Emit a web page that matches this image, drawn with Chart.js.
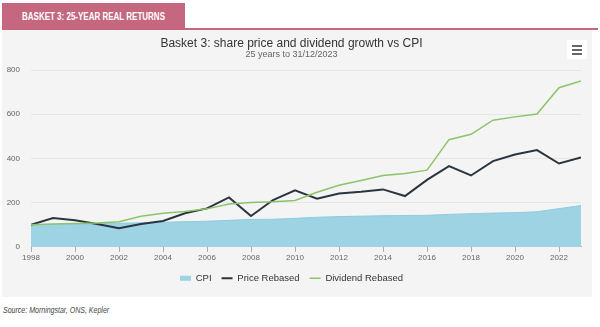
<!DOCTYPE html>
<html lang="en">
<head>
  <meta charset="UTF-8" />
  <title>Basket 3: 25-year real returns</title>
  <script src="https://cdn.jsdelivr.net/npm/chart.js"></script>
  <style>
    html, body { margin: 0; padding: 0; background: #fff; }
    body { width: 600px; height: 327px; position: relative; overflow: hidden; font-family: "Liberation Sans", Arial, sans-serif; }
    .tab {
      position: absolute; left: 2px; top: 3px; width: 183px; height: 25px;
      background: #c4677f; color: #fff; white-space: nowrap;
    }
    .tab span {
      position: absolute; left: 20px; top: 8px; display: inline-block;
      font: bold 10px "Liberation Sans", Arial, sans-serif;
      transform: scaleX(0.8); transform-origin: left top;
    }
    .rule { position: absolute; left: 2px; top: 28px; width: 596px; height: 1.5px; background: #c4677f; }
    .panel { position: absolute; left: 2px; top: 30px; width: 590px; height: 267px; background: #f4f4f4; }
    .menu {
      position: absolute; left: 565px; top: 10px; width: 20px; height: 19px; background: #fff;
    }
    .menu span { position: absolute; left: 5px; width: 10px; height: 2px; background: #666; }
    .source {
      position: absolute; left: 3px; top: 305px; white-space: nowrap;
      font: italic 9px "Liberation Sans", Arial, sans-serif; color: #444;
      transform: scaleX(0.78); transform-origin: left top;
    }
  </style>
</head>
<body>
  <div class="tab"><span>BASKET 3: 25-YEAR REAL RETURNS</span></div>
  <div class="rule"></div>
  <div class="panel">
    <canvas id="basketChart" width="590" height="267"></canvas>
    <div class="menu"><span style="top:5px"></span><span style="top:9px"></span><span style="top:13px"></span></div>
  </div>
  <div class="source">Source: Morningstar, ONS, Kepler</div>

  <script>
    const years = [1998, 1999, 2000, 2001, 2002, 2003, 2004, 2005, 2006, 2007, 2008, 2009, 2010,
                   2011, 2012, 2013, 2014, 2015, 2016, 2017, 2018, 2019, 2020, 2021, 2022, 2023];
    const cpi = [100, 102, 103, 105, 107, 109, 111, 114, 116, 120, 124, 125, 129,
                 134, 137, 139, 141, 142, 143, 147, 150, 153, 155, 159, 173, 187];
    const priceRebased = [100, 131, 120, 104, 84, 104, 117, 152, 174, 224, 140, 212, 256,
                          218, 241, 249, 260, 230, 303, 365, 323, 388, 418, 438, 377, 405];
    const dividendRebased = [100, 103, 106, 108, 114, 139, 152, 160, 172, 194, 201, 204, 210,
                             247, 279, 300, 323, 332, 347, 485, 509, 573, 588, 601, 720, 750];
    const yTicks = [0, 200, 400, 600, 800];

    const toPoints = arr => arr.map((v, i) => ({ x: years[i], y: v }));
    const sans = '"Liberation Sans", Arial, sans-serif';

    const ctx = document.getElementById("basketChart").getContext("2d");
    new Chart(ctx, {
      type: 'line',
      data: {
        datasets: [
          {
            label: 'CPI',
            data: toPoints(cpi),
            borderColor: '#8ecbdd',
            backgroundColor: '#9dd3e3',
            borderWidth: 1,
            fill: 'origin',
            pointRadius: 0,
            tension: 0,
            order: 3
          },
          {
            label: 'Price Rebased',
            data: toPoints(priceRebased),
            borderColor: '#2a3540',
            borderWidth: 2,
            fill: false,
            pointRadius: 0,
            tension: 0,
            order: 2
          },
          {
            label: 'Dividend Rebased',
            data: toPoints(dividendRebased),
            borderColor: '#8bc46a',
            borderWidth: 1.5,
            fill: false,
            pointRadius: 0,
            tension: 0,
            order: 1
          }
        ]
      },
      options: {
        responsive: false,
        animation: false,
        layout: { padding: { left: 0, right: 11, top: 0, bottom: 4 } },
        plugins: {
          title: {
            display: true,
            text: 'Basket 3: share price and dividend growth vs CPI',
            color: '#333',
            font: { family: sans, size: 12, weight: 'normal', lineHeight: 1 },
            padding: { top: 8, bottom: 0.5 }
          },
          subtitle: {
            display: true,
            text: '25 years to 31/12/2023',
            color: '#666',
            font: { family: sans, size: 9, lineHeight: 1 },
            padding: { top: 0, bottom: 10.5 }
          },
          legend: {
            position: 'bottom',
            labels: {
              color: '#333',
              font: { family: sans, size: 9.5 },
              usePointStyle: true,
              pointStyleWidth: 11,
              boxHeight: 5,
              padding: 10,
              generateLabels: chart => chart.data.datasets.map((ds, i) => ({
                text: ds.label,
                datasetIndex: i,
                fillStyle: i === 0 ? ds.backgroundColor : ds.borderColor,
                strokeStyle: i === 0 ? ds.backgroundColor : ds.borderColor,
                lineWidth: i === 0 ? 0 : ds.borderWidth,
                pointStyle: i === 0 ? 'rect' : 'line',
                fontColor: '#333',
                hidden: false
              }))
            }
          },
          tooltip: { enabled: false }
        },
        scales: {
          x: {
            type: 'linear',
            min: years[0],
            max: years[years.length - 1],
            grid: { drawOnChartArea: false, drawTicks: true, tickLength: 5, color: '#aaa' },
            border: { color: '#aaa' },
            ticks: {
              stepSize: 2,
              includeBounds: false,
              padding: 1,
              color: '#666',
              font: { family: sans, size: 8 },
              maxRotation: 0,
              callback: v => String(v)
            }
          },
          y: {
            min: yTicks[0],
            max: yTicks[yTicks.length - 1],
            afterFit: s => { s.width = 29; },
            afterBuildTicks: s => { s.ticks = yTicks.map(v => ({ value: v })); },
            grid: { color: '#e6e6e6', drawTicks: false },
            border: { display: false },
            ticks: {
              padding: 11,
              color: '#666',
              font: { family: sans, size: 8 }
            }
          }
        }
      }
    });
  </script>
</body>
</html>
